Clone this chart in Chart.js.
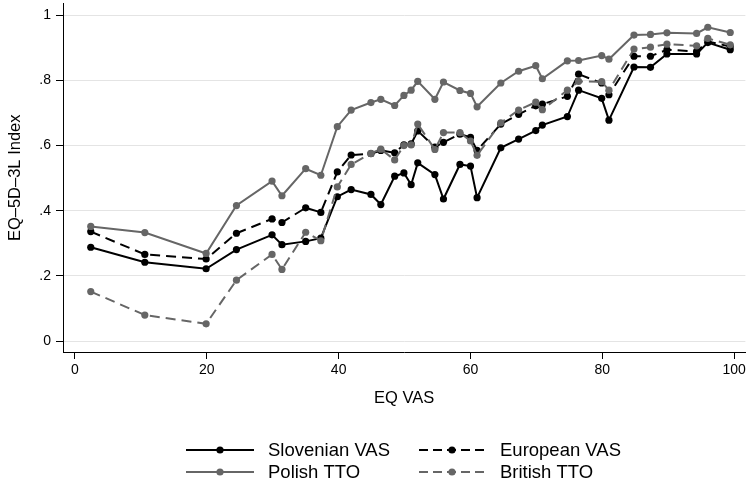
<!DOCTYPE html>
<html><head><meta charset="utf-8">
<script src="https://cdn.jsdelivr.net/npm/chart.js@4/dist/chart.umd.min.js"></script>
<style>html,body{margin:0;padding:0;background:#fff}</style>
</head><body>
<canvas id="c" width="749" height="489"></canvas>
<script>
const xValues = [2.4, 10.6, 19.9, 24.5, 29.9, 31.4, 35.0, 37.3, 39.8, 41.9, 44.9, 46.4, 48.5, 49.9, 51.0, 52.0, 54.6, 55.9, 58.4, 60.0, 61.0, 64.6, 67.3, 69.9, 70.9, 74.7, 76.4, 79.9, 81.0, 84.8, 87.3, 89.8, 94.3, 96.0, 99.4];
const slovenianVAS = [0.288, 0.242, 0.222, 0.281, 0.326, 0.296, 0.306, 0.316, 0.443, 0.465, 0.450, 0.419, 0.506, 0.516, 0.480, 0.547, 0.511, 0.436, 0.542, 0.537, 0.440, 0.593, 0.620, 0.646, 0.663, 0.689, 0.770, 0.745, 0.678, 0.841, 0.840, 0.881, 0.881, 0.916, 0.894];
const europeanVAS = [0.336, 0.266, 0.252, 0.331, 0.375, 0.364, 0.409, 0.395, 0.519, 0.571, 0.575, 0.585, 0.578, 0.602, 0.605, 0.645, 0.595, 0.610, 0.635, 0.625, 0.585, 0.666, 0.696, 0.722, 0.727, 0.751, 0.819, 0.792, 0.756, 0.874, 0.874, 0.894, 0.889, 0.919, 0.904];
const polishTTO = [0.352, 0.333, 0.269, 0.416, 0.491, 0.446, 0.529, 0.509, 0.658, 0.709, 0.732, 0.742, 0.723, 0.754, 0.770, 0.797, 0.742, 0.795, 0.769, 0.760, 0.719, 0.792, 0.828, 0.845, 0.805, 0.860, 0.861, 0.876, 0.865, 0.939, 0.941, 0.946, 0.944, 0.963, 0.947];
const britishTTO = [0.152, 0.080, 0.053, 0.187, 0.266, 0.220, 0.334, 0.308, 0.473, 0.542, 0.576, 0.589, 0.556, 0.600, 0.602, 0.666, 0.588, 0.640, 0.640, 0.614, 0.570, 0.670, 0.709, 0.733, 0.710, 0.770, 0.797, 0.796, 0.770, 0.896, 0.902, 0.911, 0.906, 0.929, 0.909];
const seriesNames = ['Slovenian VAS', 'European VAS', 'Polish TTO', 'British TTO'];
const xTicks = [0, 20, 40, 60, 80, 100];
const xTickLabels = ['0', '20', '40', '60', '80', '100'];
const yTicks = [0, 0.2, 0.4, 0.6, 0.8, 1];
const yTickLabels = ['0', '.2', '.4', '.6', '.8', '1'];

const FONT = "'Liberation Sans', Arial, Helvetica, sans-serif";
const BLACK = '#000000', GRAY = '#666666';
const DASH = [10, 6];

function pts(ys) { return xValues.map((x, i) => ({x: x, y: ys[i]})); }
function ds(label, ys, color, dash, order) {
  return {
    label: label, data: pts(ys), borderColor: color, backgroundColor: color,
    borderWidth: 2, borderDash: dash, pointRadius: 3.6, pointHoverRadius: 3.6,
    pointBackgroundColor: color, pointBorderWidth: 0, tension: 0, fill: false, order: order
  };
}

const legendPlugin = {
  id: 'customLegend',
  afterDraw(chart) {
    const ctx = chart.ctx;
    const cols = [{x0: 186, x1: 254, tx: 268}, {x0: 419, x1: 485, tx: 500}];
    const rows = [450, 472];
    const order = [0, 1, 2, 3];
    ctx.save();
    order.forEach((di, k) => {
      const d = chart.data.datasets[di];
      const c = cols[k % 2], y = rows[Math.floor(k / 2)];
      ctx.strokeStyle = d.borderColor; ctx.lineWidth = 2;
      ctx.setLineDash(d.borderDash && d.borderDash.length ? [9, 5] : []);
      ctx.beginPath(); ctx.moveTo(c.x0, y); ctx.lineTo(c.x1, y); ctx.stroke();
      ctx.setLineDash([]);
      ctx.fillStyle = d.borderColor;
      ctx.beginPath(); ctx.arc((c.x0 + c.x1) / 2, y, 3.6, 0, Math.PI * 2); ctx.fill();
      ctx.fillStyle = '#000';
      ctx.font = '18.5px ' + FONT;
      ctx.textBaseline = 'middle'; ctx.textAlign = 'left';
      ctx.fillText(d.label, c.tx, y + 1);
    });
    ctx.restore();
  }
};

new Chart(document.getElementById('c'), {
  type: 'line',
  data: {
    datasets: [
      ds(seriesNames[0], slovenianVAS, BLACK, [], 3),
      ds(seriesNames[1], europeanVAS, BLACK, DASH, 2),
      ds(seriesNames[2], polishTTO, GRAY, [], 1),
      ds(seriesNames[3], britishTTO, GRAY, DASH, 0)
    ]
  },
  options: {
    responsive: false, animation: false,
    layout: {padding: {left: 0, right: 0, top: 0, bottom: 77}},
    plugins: {legend: {display: false}, tooltip: {enabled: false}},
    scales: {
      x: {
        type: 'linear', min: -1.81, max: 101.7,
        afterBuildTicks: s => { s.ticks = xTicks.map(v => ({value: v})); },
        afterFit: s => { s.height = 60; s.paddingLeft = 0; s.paddingRight = 0; },
        ticks: {callback: v => xTickLabels[xTicks.indexOf(v)], font: {family: FONT, size: 14}, color: '#000', padding: 3, maxRotation: 0, autoSkip: false},
        grid: {drawOnChartArea: false, drawTicks: true, tickColor: '#000', tickLength: 7},
        border: {color: '#000', width: 1},
        title: {display: true, text: 'EQ VAS', font: {family: FONT, size: 16.5}, color: '#000', padding: {top: 0, bottom: 4}}
      },
      y: {
        type: 'linear', min: -0.0334, max: 1.0356,
        afterBuildTicks: s => { s.ticks = yTicks.map(v => ({value: v})); },
        afterFit: s => { s.width = 63; s.paddingTop = 0; s.paddingBottom = 0; },
        ticks: {callback: v => yTickLabels[yTicks.findIndex(t => Math.abs(t - v) < 1e-9)], font: {family: FONT, size: 14}, color: '#000', padding: 5},
        grid: {color: '#e4e4e4', lineWidth: 1, drawTicks: true, tickColor: '#000', tickLength: 7},
        border: {color: '#000', width: 1},
        title: {display: true, text: 'EQ–5D–3L Index', font: {family: FONT, size: 16.5}, color: '#000', padding: {top: 6, bottom: 0}}
      }
    }
  },
  plugins: [legendPlugin]
});
</script>
</body></html>
